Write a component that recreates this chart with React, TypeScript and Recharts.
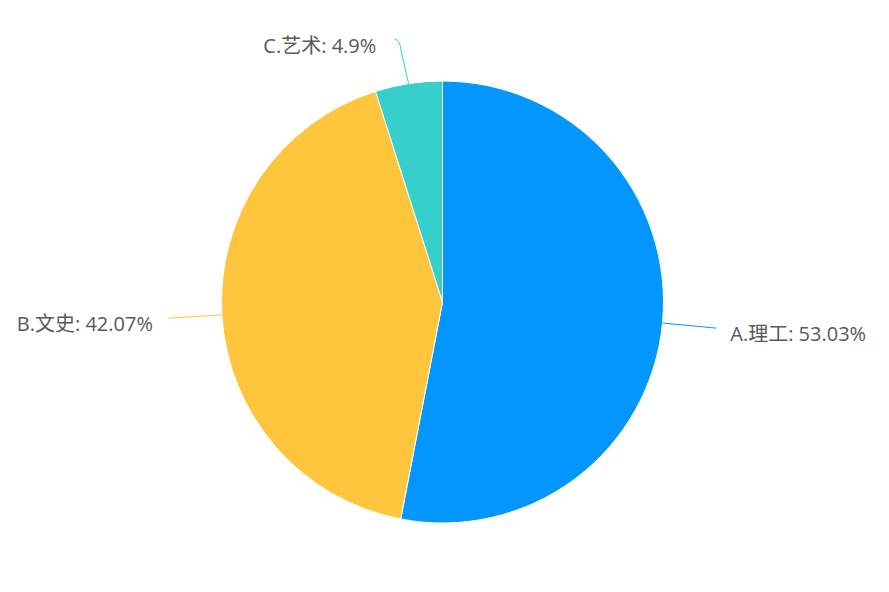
import React from 'react';
import { PieChart, Pie, Cell } from 'recharts';

const categories = ['A.理工', 'B.文史', 'C.艺术'];
const shares = [53.03, 42.07, 4.9];
const colors = ['#0396FF', '#FFC53D', '#36CFCB'];

const data = categories.map((name, i) => ({ name, value: shares[i] }));

const RADIAN = Math.PI / 180;

const renderLabel = (props: any) => {
  const { cx, cy, midAngle, outerRadius, index, name, value } = props;
  const cos = Math.cos(-midAngle * RADIAN);
  const sin = Math.sin(-midAngle * RADIAN);
  const sx = cx + outerRadius * cos;
  const sy = cy + outerRadius * sin;
  const r2 = outerRadius + 54;
  const right = cos >= 0;
  let ex = cx + r2 * cos;
  let ey = cy + r2 * sin;
  let d = `M${sx},${sy} L${ex},${ey}`;
  let tx = ex + (right ? 14 : -15);
  // labels near the top get pulled down and hooked sideways
  if (ey < 40) {
    ey = 40;
    const hx = ex + (right ? 6 : -6);
    d = `M${sx},${sy} L${ex + (right ? -1 : 1)},${ey + 12} Q${ex},${ey} ${hx},${ey - 1}`;
    tx = hx + (right ? 18 : -18);
  }
  return (
    <g>
      <path d={d} stroke={colors[index]} strokeWidth={1} fill="none" />
      <text
        x={tx}
        y={ey + 5}
        textAnchor={right ? 'start' : 'end'}
        dominantBaseline="central"
        fill="#595959"
        fontSize={20}
        style={{ fontFamily: '"Open Sans", "Noto Sans CJK SC", sans-serif' }}
      >
        {`${name}: ${value}%`}
      </text>
    </g>
  );
};

const App: React.FC = () => {
  return (
    <div style={{ position: 'absolute', left: 0, top: 0, background: '#fff' }}>
      <PieChart width={889} height={592}>
        <Pie
          data={data}
          dataKey="value"
          nameKey="name"
          cx={437.5}
          cy={297}
          outerRadius={221}
          startAngle={90}
          endAngle={-270}
          stroke="#fff"
          strokeWidth={1}
          label={renderLabel}
          labelLine={false}
          isAnimationActive={false}
        >
          {data.map((d, i) => (
            <Cell key={d.name} fill={colors[i]} />
          ))}
        </Pie>
      </PieChart>
    </div>
  );
};

export default App;
